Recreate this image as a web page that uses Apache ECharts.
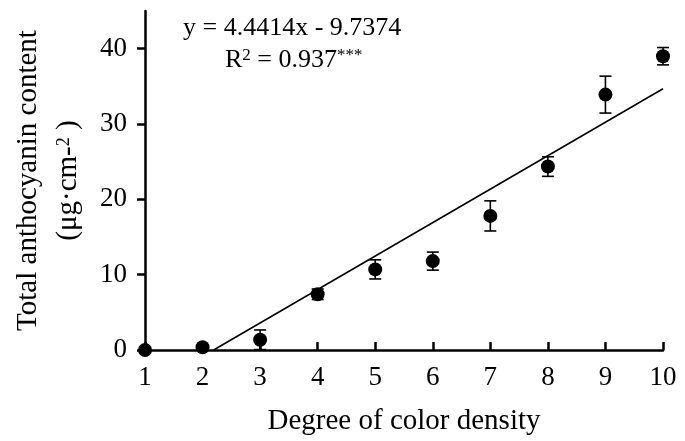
<!DOCTYPE html>
<html>
<head>
<meta charset="utf-8">
<script src="https://cdn.jsdelivr.net/npm/echarts@6/dist/echarts.min.js"></script>
<style>html,body{margin:0;padding:0;background:#fff}#c{width:685px;height:441px}</style>
</head>
<body>
<div id="c"></div>
<script>
const degrees = [1, 2, 3, 4, 5, 6, 7, 8, 9, 10];
const anthocyanin = [0, 0.36, 1.36, 7.4, 10.7, 11.8, 17.8, 24.35, 33.9, 39.0];
const errors = [0, 0.2, 1.3, 0.7, 1.27, 1.2, 2.0, 1.3, 2.45, 1.15];
const trendX = [2.192, 10];
const trendY = [0, 34.68];
const yTicks = [0, 10, 20, 30, 40];
const xTicks = [1, 2, 3, 4, 5, 6, 7, 8, 9, 10];

const FONT = '"Liberation Serif", "Times New Roman", serif';
const scatterData = degrees.map((d, i) => [d, anthocyanin[i]]);
const errData = degrees.map((d, i) => [d, anthocyanin[i] - errors[i], anthocyanin[i] + errors[i]]);
const trendData = trendX.map((x, i) => [x, trendY[i]]);

const chart = echarts.init(document.getElementById('c'), null, {renderer: 'canvas'});
chart.setOption({
  backgroundColor: '#fff',
  animation: false,
  grid: {left: 135, right: 22, top: 11, bottom: 90},
  xAxis: {
    type: 'value', min: 1, max: 10, interval: 1,
    name: 'Degree of color density', nameLocation: 'middle', nameGap: 57,
    nameTextStyle: {fontFamily: FONT, fontSize: 29, color: '#000'},
    axisLine: {onZero: false, lineStyle: {color: '#000', width: 2.5}},
    axisTick: {inside: true, length: 8, lineStyle: {color: '#000', width: 2.5}, customValues: xTicks},
    axisLabel: {fontFamily: FONT, fontSize: 27, color: '#000', margin: 14, customValues: xTicks},
    splitLine: {show: false}
  },
  yAxis: {
    type: 'value', min: 0, max: 45, interval: 5,
    name: '{a|Total anthocyanin content}\n{a|(μg·cm-}{s|2}{a| )}',
    nameLocation: 'middle', nameGap: 57, nameRotate: 90,
    nameTextStyle: {
      fontFamily: FONT, color: '#000', lineHeight: 40,
      rich: {
        a: {fontFamily: FONT, fontSize: 29, color: '#000', lineHeight: 40},
        s: {fontFamily: FONT, fontSize: 18, color: '#000', lineHeight: 20, verticalAlign: 'top', padding: [7, 0, 0, 0]}
      }
    },
    axisLine: {show: true, lineStyle: {color: '#000', width: 2.5}},
    axisTick: {show: true, length: 8, lineStyle: {color: '#000', width: 2.5}, customValues: yTicks},
    axisLabel: {fontFamily: FONT, fontSize: 27, color: '#000', margin: 18, customValues: yTicks},
    splitLine: {show: false}
  },
  series: [
    {
      type: 'line', data: trendData, symbol: 'none', silent: true,
      lineStyle: {color: '#000', width: 1.5}, z: 2
    },
    {
      type: 'custom', data: errData, clip: false, z: 3,
      renderItem: function (params, api) {
        const x = api.value(0);
        const lo = api.coord([x, api.value(1)]);
        const hi = api.coord([x, api.value(2)]);
        const hw = 6;
        const st = {stroke: '#000', lineWidth: 1.6};
        return {
          type: 'group',
          children: [
            {type: 'line', shape: {x1: lo[0], y1: lo[1], x2: hi[0], y2: hi[1]}, style: st},
            {type: 'line', shape: {x1: lo[0] - hw, y1: lo[1], x2: lo[0] + hw, y2: lo[1]}, style: st},
            {type: 'line', shape: {x1: hi[0] - hw, y1: hi[1], x2: hi[0] + hw, y2: hi[1]}, style: st}
          ]
        };
      }
    },
    {
      type: 'scatter', data: scatterData, symbol: 'circle', symbolSize: 14, clip: false, z: 4,
      itemStyle: {color: '#000', opacity: 1}
    }
  ],
  graphic: [
    {
      type: 'text', left: 183, top: 15,
      style: {text: 'y = 4.4414x - 9.7374', fontFamily: FONT, fontSize: 26, fill: '#000'}
    },
    {
      type: 'text', left: 225, top: 47,
      style: {
        text: '{a|R}{s|2}{a| = 0.937}{s|***}',
        rich: {
          a: {fontFamily: FONT, fontSize: 26, fill: '#000'},
          s: {fontFamily: FONT, fontSize: 17, fill: '#000', verticalAlign: 'top', padding: [0, 0, 10, 0]}
        }
      }
    }
  ]
});
</script>
</body>
</html>
